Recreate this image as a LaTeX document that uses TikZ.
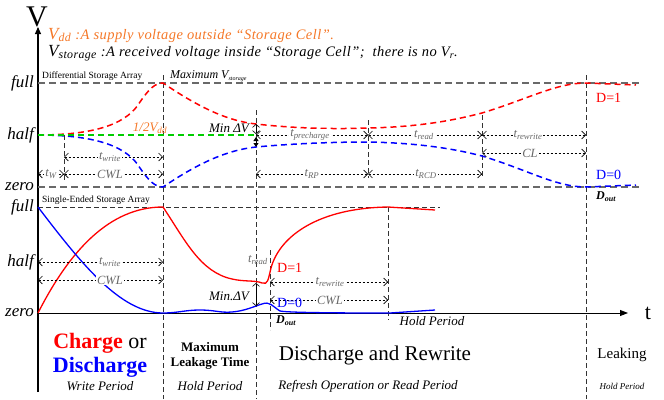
\documentclass[tikz,border=0pt]{standalone}
\usepackage{fontspec}
\setmainfont{Liberation Serif}
\usetikzlibrary{arrows.meta}

\definecolor{vred}{RGB}{255,0,0}
\definecolor{vblue}{RGB}{0,0,255}
\definecolor{vgreen}{RGB}{0,205,0}
\definecolor{vorange}{RGB}{245,120,40}
\definecolor{lgrey}{RGB}{105,105,105}
\newcommand{\fs}[1]{\fontsize{#1}{#1}\selectfont}
\newcommand{\vsub}[2]{\textit{#1}\textsubscript{\textit{#2}}}

\begin{document}
\begin{tikzpicture}[x=1pt,y=1pt,yscale=-1,
  greydash/.style={draw=lgrey, dash pattern=on 7pt off 4pt, line width=1.1pt},
  guide/.style={draw=black!80, dash pattern=on 5pt off 3pt, line width=0.8pt},
  dim/.style={{Straight Barb[length=4pt,width=8pt]}-{Straight Barb[length=4pt,width=8pt]}, dash pattern=on 2.5pt off 1.5pt, line width=0.6pt},
  dimlbl/.style={fill=white, inner sep=1pt, text=lgrey, font=\itshape\fs{12.5}},
  level/.style={anchor=east, inner sep=0pt, font=\itshape\fs{17}},
  curvetop/.style={dash pattern=on 6pt off 4pt, line width=1.5pt},
  curvebot/.style={line width=1.3pt},
  title/.style={anchor=west, inner sep=0pt, font=\fs{9.5}},
  legend/.style={anchor=west, inner sep=0pt, font=\fs{14.5}\itshape\addfontfeature{LetterSpace=3}}]
\useasboundingbox (0,0) rectangle (664,399);

% axes
\draw [line width=1.1pt, -{Triangle[length=7pt,width=6pt]}] (38,392) -- (38,27);
\draw [line width=0.9pt, -{Triangle[length=8pt,width=6pt]}] (38,313) -- (628,313);
\node (vlab) at (37,17) {\fs{30}V};
\node (tlab) at (648,313) {\fs{22}t};

% legend text
\node [legend, text=vorange] (vddtxt) at (48,35) {{\fs{17}\vsub{V}{dd}}\ :A supply voltage outside ``Storage Cell''.};
\node [legend] (vsttxt) at (48,53) {{\fs{17}\vsub{V}{storage}}\ :A received voltage inside ``Storage Cell'';\ \ there is no \vsub{V}{r}.};

% levels
\node [level] (full1) at (34,83) {full};
\node [level] (half1) at (34,135) {half};
\node [level] (zero1) at (34,187) {zero};
\node [level] (full2) at (34,207) {full};
\node [level] (half2) at (34,262) {half};
\node [level] (zero2) at (34,313) {zero};

% Differential Storage Array
\draw [greydash] (38,83) -- (640,83);
\draw [greydash] (38,187) -- (640,187);
\node [title] (diffarr) at (42,76) {Differential Storage Array};
\node [anchor=west, inner sep=0pt, font=\itshape\fs{12}] (maxv) at (170,76) {Maximum \vsub{V}{\fs{6}storage}};

% vertical guides
\draw [guide] (163,75) -- (163,399);
\draw [guide] (256,110) -- (256,399);
\draw [guide] (586,75) -- (586,399);
\draw [guide] (64,135) -- (64,180);
\draw [guide] (368,120) -- (368,178);
\draw [guide] (482,115) -- (482,178);
\draw [guide] (270,250) -- (270,330);
\draw [guide] (388,207) -- (388,320);

% top curves
\draw [curvetop, vred] (38,135) .. controls (100,135) and (128,122) .. (140,102) .. controls (149,89) and (155,83) .. (163,83) .. controls (200,108) and (228,121) .. (256,124) .. controls (300,129) and (340,129) .. (368,128) .. controls (420,127) and (455,120) .. (482,113) .. controls (528,99) and (556,83) .. (586,83) -- (636,85);
\draw [curvetop, vblue] (38,135) .. controls (100,135) and (128,148) .. (140,168) .. controls (149,181) and (155,187) .. (163,187) .. controls (200,162) and (228,150) .. (256,147) .. controls (300,143) and (340,142) .. (368,142) .. controls (420,143) and (455,149) .. (482,156) .. controls (528,170) and (556,187) .. (586,187) -- (636,185);
\draw [curvetop, vgreen] (38,135) -- (256,135);
\node [inner sep=0pt, text=vorange, font=\itshape\fs{13}] (halfvdd) at (150,128) {1/2\vsub{V}{dd}};
\node [inner sep=0pt, font=\itshape\fs{13}] (mindv1) at (229,128) {Min ΔV};
\draw [line width=0.6pt, {Straight Barb[length=3pt,width=7pt]}-{Straight Barb[length=3pt,width=7pt]}] (256,124) -- (256,134);
\draw [line width=0.8pt, {Triangle[length=4pt,width=5pt]}-{Triangle[length=4pt,width=5pt]}] (256,137) -- (256,147);

% top dimensions
\draw [dim] (64,157) -- (163,157);
\draw [dim] (64,174) -- (163,174);
\draw [dim] (38,174) -- (64,174);
\node [dimlbl] (twrite1) at (110,157) {\vsub{t}{write}};
\node [dimlbl] (cwl1) at (110,174) {CWL};
\node [dimlbl] (tw) at (51,174) {\vsub{t}{W}};
\draw [dim] (256,135) -- (368,135);
\draw [dim] (368,135) -- (482,135);
\draw [dim] (482,135) -- (586,135);
\draw [dim] (482,153) -- (586,153);
\draw [dim] (256,174) -- (368,174);
\draw [dim] (368,174) -- (482,174);
\node [dimlbl] (tpre) at (310,135) {\vsub{t}{precharge}};
\node [dimlbl] (tread1) at (424,135) {\vsub{t}{read}};
\node [dimlbl] (trew1) at (528,135) {\vsub{t}{rewrite}};
\node [dimlbl] (cl) at (530,153) {CL};
\node [dimlbl] (trp) at (312,174) {\vsub{t}{RP}};
\node [dimlbl] (trcd) at (426,174) {\vsub{t}{RCD}};
\node [anchor=west, inner sep=0pt, text=vred, font=\fs{14}] (d1a) at (596,98) {D=1};
\node [anchor=west, inner sep=0pt, text=vblue, font=\fs{14}] (d0a) at (596,175) {D=0};
\node [anchor=west, inner sep=0pt, font=\bfseries\fs{12}] (douta) at (596,197) {\vsub{D}{out}};

% Single-Ended Storage Array
\draw [guide] (38,207) -- (440,207);
\node [title] (singarr) at (42,200) {Single-Ended Storage Array};
\draw [curvebot, vred] (38,313) .. controls (70,250) and (110,207) .. (163,207) .. controls (185,240) and (200,272) .. (232,279) .. controls (245,282) and (255,280) .. (262,283) .. controls (268,285) and (268,280) .. (271,268) .. controls (280,235) and (320,208) .. (388,207) -- (435,210);
\draw [curvebot, vblue] (38,207) .. controls (80,262) and (120,313) .. (163,313) .. controls (178,313) and (185,310) .. (200,310) .. controls (215,310) and (220,313) .. (232,312) .. controls (245,311) and (255,306) .. (262,304) .. controls (270,301) and (272,306) .. (280,311) .. controls (290,313) and (360,313) .. (390,313) -- (435,310);
\draw [dim] (38,262) -- (163,262);
\draw [dim] (38,280) -- (163,280);
\node [dimlbl] (twrite2) at (110,262) {\vsub{t}{write}};
\node [dimlbl] (cwl2) at (110,280) {CWL};
\draw [dim] (270,282) -- (388,282);
\draw [dim] (270,300) -- (388,300);
\node [dimlbl] (trew2) at (330,282) {\vsub{t}{rewrite}};
\node [dimlbl] (cwl3) at (330,300) {CWL};
\draw [line width=0.6pt, {Straight Barb[length=3pt,width=7pt]}-{Straight Barb[length=3pt,width=7pt]}] (256,283) -- (256,306);
\node [inner sep=0pt, text=lgrey, font=\itshape\fs{12.5}] (tread2) at (258,260) {\vsub{t}{read}};
\node [inner sep=0pt, font=\itshape\fs{13}] (mindv2) at (229,296) {Min.ΔV};
\node [anchor=west, inner sep=0pt, text=vred, font=\fs{14}] (d1b) at (277,268) {D=1};
\node [anchor=west, inner sep=0pt, text=vblue, font=\fs{14}] (d0b) at (277,303) {D=0};
\node [anchor=west, inner sep=0pt, font=\bfseries\fs{12}] (doutb) at (276,321) {\vsub{D}{out}};
\node [inner sep=0pt, font=\itshape\fs{13}] (hold1) at (432,321) {Hold Period};

% periods
\node [inner sep=0pt, font=\fs{22}] (charge) at (100,343) {\textcolor{vred}{\bfseries Charge} or};
\node [inner sep=0pt, font=\bfseries\fs{22}, text=vblue] (disch) at (100,367) {Discharge};
\node [inner sep=0pt, font=\itshape\fs{13}] (write) at (100,386) {Write Period};
\node [inner sep=0pt, font=\bfseries\fs{13}, align=center] (leak) at (210,356) {Maximum\\[2pt]Leakage Time};
\node [inner sep=0pt, font=\itshape\fs{13}] (hold2) at (210,386) {Hold Period};
\node [inner sep=0pt, font=\fs{21}] (rewr) at (375,355) {Discharge and Rewrite};
\node [inner sep=0pt, font=\itshape\fs{13}] (refr) at (368,386) {Refresh Operation or Read Period};
\node [inner sep=0pt, font=\fs{15}] (leaking) at (622,355) {Leaking};
\node [inner sep=0pt, font=\itshape\fs{9}] (hold3) at (622,386) {Hold Period};
\end{tikzpicture}
\end{document}
